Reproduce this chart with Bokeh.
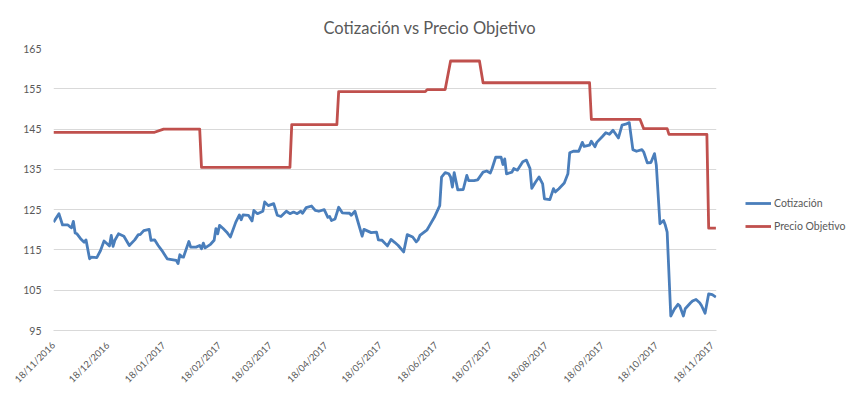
import math
import pandas as pd
from bokeh.plotting import figure
from bokeh.models import (FixedTicker, DatetimeTickFormatter, Range1d, Legend,
                          LegendItem, ColumnDataSource)
from bokeh.embed import file_html
from bokeh.resources import INLINE

# ---------------- data ----------------
title_text = "Cotización vs Precio Objetivo"
series_names = ["Cotización", "Precio Objetivo"]

cot_dates = [
    "2016-11-18", "2016-11-21", "2016-11-23", "2016-11-26", "2016-11-27", "2016-11-28", "2016-11-29", "2016-11-30",
    "2016-12-01", "2016-12-03", "2016-12-05", "2016-12-06", "2016-12-08", "2016-12-09", "2016-12-12", "2016-12-14",
    "2016-12-16", "2016-12-18", "2016-12-19", "2016-12-20", "2016-12-21", "2016-12-22", "2016-12-24", "2016-12-27",
    "2016-12-30",
    "2017-01-02", "2017-01-04", "2017-01-05", "2017-01-07", "2017-01-10", "2017-01-11", "2017-01-13", "2017-01-15",
    "2017-01-17", "2017-01-20", "2017-01-25", "2017-01-26", "2017-01-27", "2017-01-28", "2017-01-29",
    "2017-02-01", "2017-02-02", "2017-02-05", "2017-02-07", "2017-02-08", "2017-02-09", "2017-02-10", "2017-02-13",
    "2017-02-15", "2017-02-16", "2017-02-17", "2017-02-18", "2017-02-20", "2017-02-22", "2017-02-24", "2017-02-27",
    "2017-03-01", "2017-03-02", "2017-03-03", "2017-03-06", "2017-03-08", "2017-03-09", "2017-03-11", "2017-03-14",
    "2017-03-15", "2017-03-17", "2017-03-20", "2017-03-22", "2017-03-24", "2017-03-27", "2017-03-29", "2017-03-31",
    "2017-04-02", "2017-04-04", "2017-04-05", "2017-04-07", "2017-04-10", "2017-04-12", "2017-04-14", "2017-04-17",
    "2017-04-19", "2017-04-20", "2017-04-21", "2017-04-23", "2017-04-25", "2017-04-27",
    "2017-05-01", "2017-05-02", "2017-05-04", "2017-05-06", "2017-05-08", "2017-05-09", "2017-05-13", "2017-05-16",
    "2017-05-17", "2017-05-19", "2017-05-22", "2017-05-24", "2017-05-26", "2017-05-28", "2017-05-31",
    "2017-06-02", "2017-06-05", "2017-06-07", "2017-06-08", "2017-06-09", "2017-06-13", "2017-06-14", "2017-06-17",
    "2017-06-20", "2017-06-21", "2017-06-23", "2017-06-25", "2017-06-26", "2017-06-27", "2017-06-28", "2017-06-30",
    "2017-07-03", "2017-07-05", "2017-07-06", "2017-07-09", "2017-07-11", "2017-07-14", "2017-07-16", "2017-07-18",
    "2017-07-19", "2017-07-21", "2017-07-24", "2017-07-25", "2017-07-26", "2017-07-27", "2017-07-30", "2017-07-31",
    "2017-08-02", "2017-08-05", "2017-08-07", "2017-08-09", "2017-08-10", "2017-08-12", "2017-08-14", "2017-08-16",
    "2017-08-17", "2017-08-20", "2017-08-22", "2017-08-23", "2017-08-25", "2017-08-28", "2017-08-30", "2017-08-31",
    "2017-09-02", "2017-09-05", "2017-09-07", "2017-09-08", "2017-09-11", "2017-09-12", "2017-09-14", "2017-09-15",
    "2017-09-18", "2017-09-20", "2017-09-22", "2017-09-24", "2017-09-27", "2017-09-29",
    "2017-10-01", "2017-10-03", "2017-10-05", "2017-10-07", "2017-10-10", "2017-10-11", "2017-10-13", "2017-10-15",
    "2017-10-17", "2017-10-18", "2017-10-20", "2017-10-22", "2017-10-23", "2017-10-24", "2017-10-26", "2017-10-28",
    "2017-10-30", "2017-10-31",
    "2017-11-02", "2017-11-03", "2017-11-06", "2017-11-07", "2017-11-09", "2017-11-11", "2017-11-12", "2017-11-14",
    "2017-11-16", "2017-11-18", "2017-11-20",
]
cot_values = [
    121.9, 124.0, 121.2, 121.2, 120.8, 120.5, 122.1, 119.2,
    119.0, 117.8, 116.9, 117.5, 112.8, 113.2, 113.1, 114.8,
    117.2, 116.4, 116.0, 118.6, 115.9, 117.4, 119.0, 118.4,
    116.1,
    117.5, 118.8, 118.8, 119.8, 120.1, 117.4, 117.5, 116.1,
    114.9, 112.8, 112.4, 111.6, 113.8, 113.3, 113.2,
    117.1, 115.7, 115.7, 116.1, 115.3, 116.7, 115.5, 116.4,
    117.4, 120.3, 119.0, 121.1, 120.3, 119.4, 118.2, 121.9,
    123.7, 122.5, 123.7, 123.6, 122.2, 124.8, 124.0, 124.6,
    126.9, 126.0, 126.5, 123.6, 123.3, 124.6, 124.0, 124.4,
    124.0, 124.6, 124.1, 125.5, 125.9, 124.8, 124.6, 125.0,
    123.1, 123.3, 122.3, 122.7, 125.6, 124.2,
    124.1, 123.6, 124.6, 121.5, 118.4, 120.1, 119.3, 119.4,
    117.5, 117.4, 116.0, 117.6, 116.9, 116.1, 114.5,
    118.8, 118.2, 117.0, 117.5, 118.6, 120.0, 120.8, 123.1,
    126.0, 133.1, 134.2, 133.9, 133.1, 130.6, 134.2, 129.9,
    130.0, 133.5, 132.2, 132.2, 132.4, 134.3, 134.6, 134.1,
    135.2, 138.0, 138.0, 136.2, 137.6, 133.9, 134.3, 135.2,
    134.8, 136.9, 137.3, 135.2, 130.3, 131.8, 133.1, 131.4,
    127.7, 127.5, 130.2, 129.4, 130.2, 131.6, 133.9, 139.1,
    139.5, 139.5, 141.7, 140.7, 141.0, 142.0, 140.6, 141.7,
    143.1, 144.1, 143.7, 144.7, 142.8, 146.0,
    146.2, 146.6, 139.9, 139.5, 139.9, 139.3, 136.6, 136.7,
    138.9, 136.0, 121.5, 122.3, 121.1, 119.4, 98.6, 100.3,
    101.5, 101.1,
    98.6, 100.4, 101.9, 102.3, 102.7, 101.9, 101.2, 99.3,
    104.1, 103.9, 103.3,
]

obj_dates = [
    "2016-11-18", "2017-01-13", "2017-01-18", "2017-02-07", "2017-02-08", "2017-03-29",
    "2017-03-30", "2017-04-24", "2017-04-25", "2017-06-12", "2017-06-13", "2017-06-23",
    "2017-06-26", "2017-07-12", "2017-07-14", "2017-09-11", "2017-09-12", "2017-10-09",
    "2017-10-11", "2017-10-24", "2017-10-25", "2017-11-15", "2017-11-16", "2017-11-20",
]
obj_values = [
    144.2, 144.2, 145.0, 145.0, 135.5, 135.5,
    146.1, 146.1, 154.3, 154.3, 154.8, 154.8,
    161.9, 161.9, 156.5, 156.5, 147.4, 147.4,
    145.1, 145.1, 143.7, 143.7, 120.4, 120.4,
]

x_tick_labels = ["18/11/2016", "18/12/2016", "18/01/2017", "18/02/2017", "18/03/2017",
                 "18/04/2017", "18/05/2017", "18/06/2017", "18/07/2017", "18/08/2017",
                 "18/09/2017", "18/10/2017", "18/11/2017"]
y_ticks = [95, 105, 115, 125, 135, 145, 155, 165]

# ---------------- plot ----------------
TXT = "#595959"
GRID = "#d9d9d9"
FONT = "Lato"

cot_src = ColumnDataSource(dict(x=pd.to_datetime(cot_dates), y=cot_values))
obj_src = ColumnDataSource(dict(x=pd.to_datetime(obj_dates), y=obj_values))

x_start = pd.Timestamp("2016-11-18")
x_end = pd.Timestamp("2017-11-20 08:00")

p = figure(frame_width=663, frame_height=282, x_axis_type="datetime",
           output_backend="svg", toolbar_location=None,
           x_range=Range1d(x_start, x_end), y_range=Range1d(95, 165),
           min_border_left=53, min_border_right=144,
           min_border_top=48, min_border_bottom=69)
p.outline_line_color = None
p.background_fill_color = "white"
p.border_fill_color = "white"
p.styles = {"outline": "1px solid #d9d9d9", "outline-offset": "-2px"}

p.title.text = title_text
p.title.align = "left"
p.title.offset = 270
p.title.text_font = FONT
p.title.text_font_size = "16.5px"
p.title.text_font_style = "normal"
p.title.text_color = TXT
p.title.standoff = 22

r1 = p.line("x", "y", source=cot_src, line_color="#4a7ebb", line_width=2.8,
            line_join="round")
r2 = p.line("x", "y", source=obj_src, line_color="#c0504d", line_width=2.8,
            line_join="round")

tick_ts = pd.to_datetime(x_tick_labels, format="%d/%m/%Y")
tick_ms = [float(t.value // 10**6) for t in tick_ts]
p.xaxis.ticker = FixedTicker(ticks=tick_ms)
fmt = "%d/%m/%Y"
p.xaxis.formatter = DatetimeTickFormatter(days=fmt, months=fmt, years=fmt, hours=fmt,
                                          minutes=fmt, seconds=fmt, milliseconds=fmt,
                                          microseconds=fmt)
p.xaxis.major_label_orientation = math.pi / 4
p.xaxis.major_label_text_font = FONT
p.xaxis.major_label_text_font_size = "9.5px"
p.xaxis.major_label_text_color = TXT
p.xaxis.major_label_standoff = 7
p.xaxis.axis_line_color = GRID
p.xaxis.major_tick_line_color = None
p.xaxis.minor_tick_line_color = None

p.yaxis.ticker = FixedTicker(ticks=y_ticks)
p.yaxis.major_label_text_font = FONT
p.yaxis.major_label_text_font_size = "10.5px"
p.yaxis.major_label_text_color = TXT
p.yaxis.major_label_standoff = 6
p.yaxis.axis_line_color = None
p.yaxis.major_tick_line_color = None
p.yaxis.minor_tick_line_color = None

p.xgrid.grid_line_color = None
p.ygrid.grid_line_color = GRID
p.ygrid.grid_line_width = 1

legend = Legend(items=[LegendItem(label=series_names[0], renderers=[r1]),
                       LegendItem(label=series_names[1], renderers=[r2])],
                location=(29, 94), padding=0, margin=0, spacing=3,
                label_height=20, glyph_height=20, glyph_width=26, label_standoff=3,
                label_text_font=FONT, label_text_font_size="10.5px",
                label_text_color=TXT, border_line_color=None,
                background_fill_alpha=0)
p.add_layout(legend, "right")

open("out.html", "w").write(file_html(p, INLINE))
